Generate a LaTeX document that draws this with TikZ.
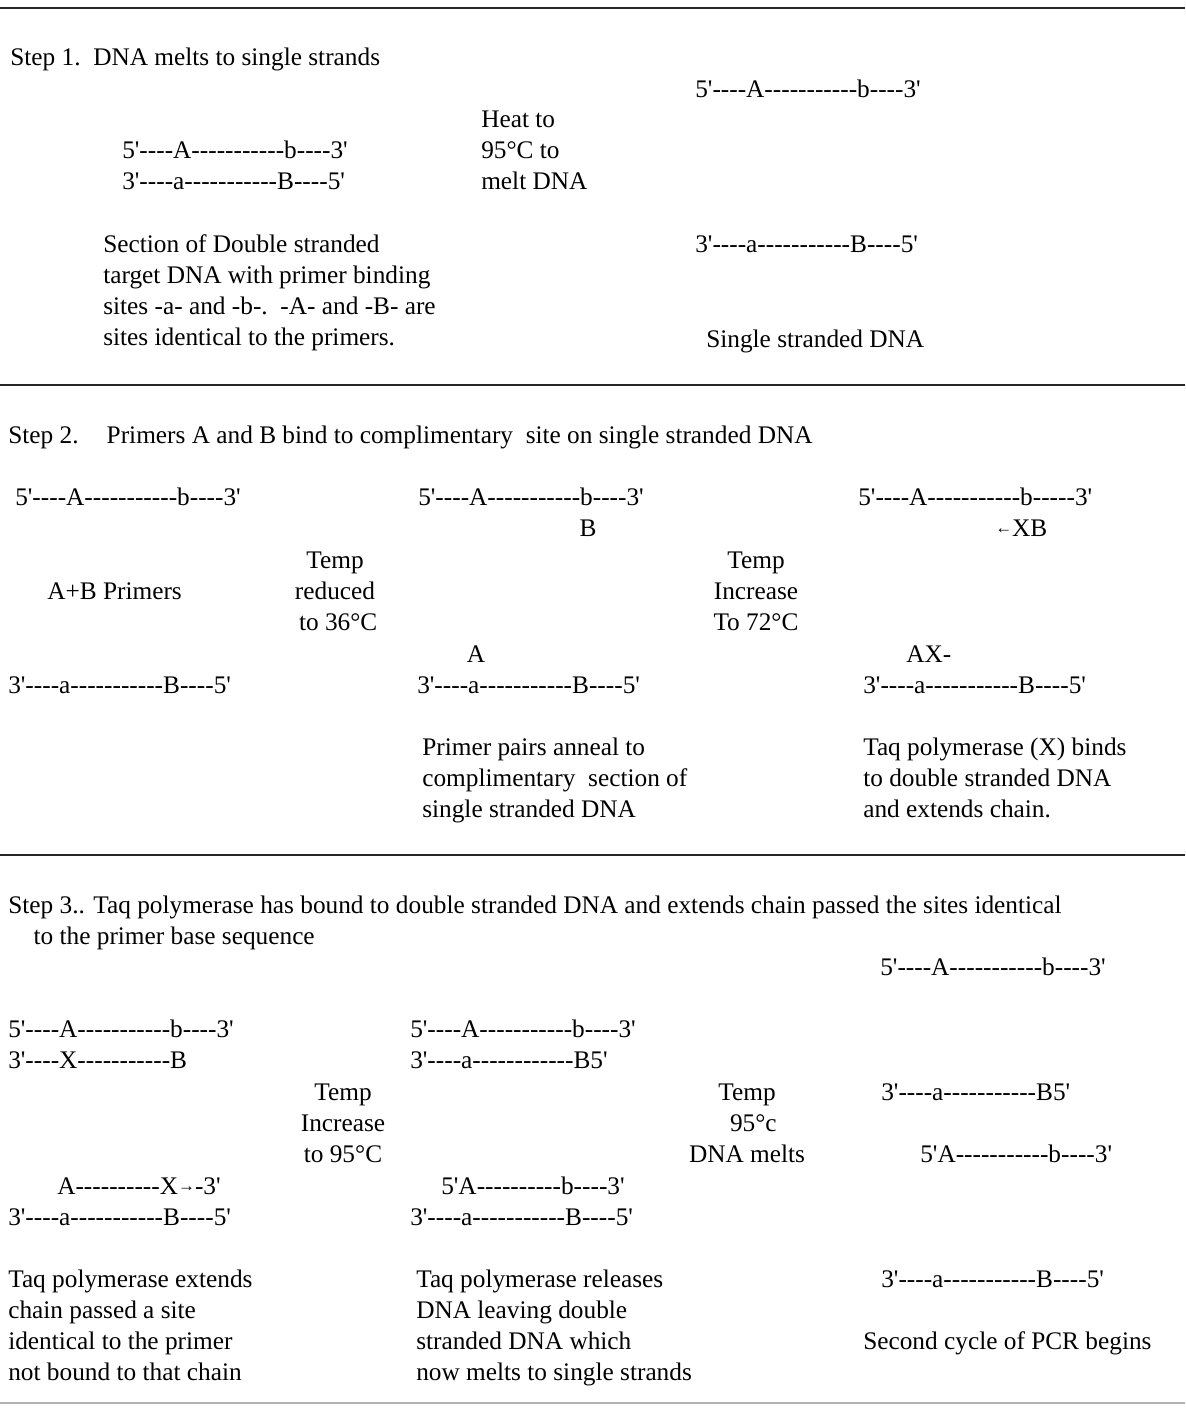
\documentclass[tikz,border=0pt]{standalone}
\usepackage{fontspec}
\setmainfont{Liberation Serif}[Ligatures=TeXOff]
\usetikzlibrary{positioning}

\newcommand{\tinyarrow}[1]{\raisebox{1.5pt}{\fontsize{12}{12}\selectfont #1}}

\begin{document}
\begin{tikzpicture}[x=0.025cm, y=-0.025cm,
    txt/.style={anchor=base west, inner sep=0pt, align=left,
        font=\fontsize{18}{22}\selectfont},
    ctxt/.style={anchor=base, inner sep=0pt, align=center,
        font=\fontsize{18}{22}\selectfont},
    rule/.style={line width=2pt, black!85}]
\useasboundingbox (0,0) rectangle (1185,1415);
\fill[white] (0,0) rectangle (1185,1415);

% section rules
\draw[rule] (0,8) -- (1185,8);
\draw[rule] (0,385) -- (1185,385);
\draw[rule] (0,855) -- (1185,855);
\draw[black!30, line width=0.8pt] (0,1403) -- (1185,1403);

% step 1 (multi-line nodes sit on their last baseline)
\node[txt] (s1title) at (10,65) {Step 1.\ \ DNA melts to single strands};
\node[txt] (s1top) at (695,97) {5'----A-----------b----3'};
\node[txt] (heat) at (481,189) {Heat to\\95°C to\\melt DNA};
\node[txt] (ds5) at (122,158) {5'----A-----------b----3'};
\node[txt] (ds3) at (122,189) {3'----a-----------B----5'};
\node[txt] (dsnote) at (103,345) {Section of Double stranded\\target DNA with primer binding\\sites -a- and -b-.\ \ -A- and -B- are\\sites identical to the primers.};
\node[txt] (s1bot) at (695,252) {3'----a-----------B----5'};
\node[txt] (sslbl) at (706,347) {Single stranded DNA};

% step 2
\node[txt] (s2title) at (8,443) {Step 2.\hspace{20pt}Primers A and B bind to complimentary\ \ site on single stranded DNA};
\node[txt] (s2topa) at (15,505) {5'----A-----------b----3'};
\node[txt] (s2topb) at (418,505) {5'----A-----------b----3'};
\node[txt] (s2topc) at (858,505) {5'----A-----------b-----3'};
\node[ctxt] (primb) at (588,536) {B};
\node[txt] (xb) at (995,536) {\tinyarrow{←}XB};
\node[ctxt] (cool) at (335,630) {Temp\\reduced\\\ to 36°C};
\node[txt] (primers) at (47,599) {A+B Primers};
\node[ctxt] (warm) at (756,630) {Temp\\Increase\\To 72°C};
\node[ctxt] (prima) at (476,662) {A};
\node[txt] (ax) at (906,662) {AX-};
\node[txt] (s2bota) at (8,693) {3'----a-----------B----5'};
\node[txt] (s2botb) at (417,693) {3'----a-----------B----5'};
\node[txt] (s2botc) at (863,693) {3'----a-----------B----5'};
\node[txt] (anneal) at (422,817) {Primer pairs anneal to\\complimentary\ \ section of\\single stranded DNA};
\node[txt] (binds) at (863,817) {Taq polymerase (X) binds\\to double stranded DNA\\and extends chain.};

% step 3
\node[txt] (s3title) at (8,944) {Step 3.. Taq polymerase has bound to double stranded DNA and extends chain passed the sites identical\\\hspace*{18pt}to the primer base sequence};
\node[txt] (s3top) at (880,975) {5'----A-----------b----3'};
\node[txt] (ext5) at (8,1037) {5'----A-----------b----3'};
\node[txt] (ext3) at (8,1068) {3'----X-----------B};
\node[txt] (rel5) at (410,1037) {5'----A-----------b----3'};
\node[txt] (rel3) at (410,1068) {3'----a------------B5'};
\node[ctxt] (heat2) at (343,1162) {Temp\\Increase\\to 95°C};
\node[ctxt] (melt) at (747,1162) {Temp\\\ \ 95°c\\DNA melts};
\node[txt] (newa) at (881,1100) {3'----a-----------B5'};
\node[txt] (newb) at (920,1162) {5'A-----------b----3'};
\node[txt] (ext5b) at (57,1194) {A----------X\tinyarrow{→}-3'};
\node[txt] (ext3b) at (8,1225) {3'----a-----------B----5'};
\node[txt] (rel5b) at (441,1194) {5'A----------b----3'};
\node[txt] (rel3b) at (410,1225) {3'----a-----------B----5'};
\node[txt] (s3bot) at (881,1287) {3'----a-----------B----5'};
\node[txt] (extnote) at (8,1380) {Taq polymerase extends\\chain passed a site\\identical to the primer\\not bound to that chain};
\node[txt] (relnote) at (416,1380) {Taq polymerase releases\\DNA leaving double\\stranded DNA which\\now melts to single strands};
\node[txt] (cycle) at (863,1349) {Second cycle of PCR begins};
\end{tikzpicture}
\end{document}
